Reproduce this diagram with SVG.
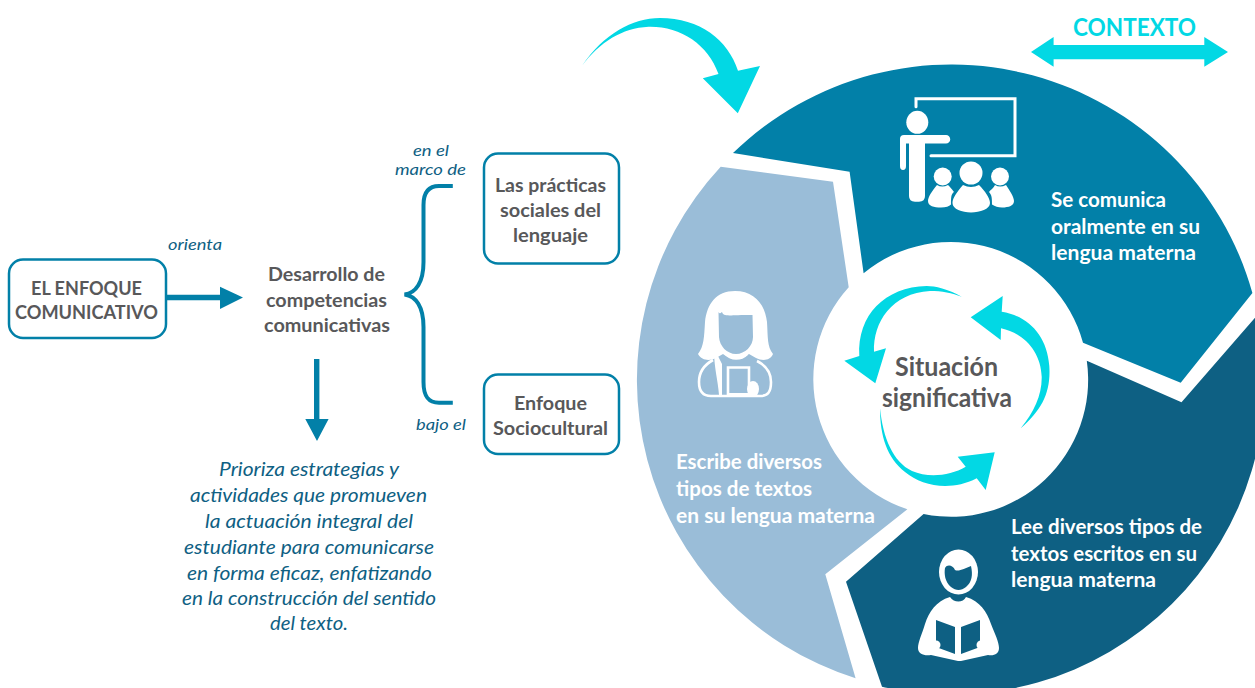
<svg xmlns="http://www.w3.org/2000/svg" width="1255" height="688" viewBox="0 0 1255 688">
<style>
text{font-family:"Lato","Liberation Sans",sans-serif}
.b{font-weight:700;font-size:19px;fill:#58585a}
.w{font-weight:700;font-size:20px;fill:#fff}
.i{font-style:italic;font-size:16px;fill:#0e6083}
.p{font-style:italic;font-size:19px;fill:#0e6083}
.s{font-weight:700;font-size:26px;fill:#58585a}
.box{fill:#fff;stroke:#0280a8;stroke-width:2.5}
.c{fill:#02d8e4}
.k{fill:#0280a8}
.ic{fill:#fff}
</style>
<rect width="1255" height="688" fill="#fff"/>
<g id="segments">
<path id="seg-oral" fill="#0280a8" d="M733 153L849.6 171.7L863.6 273.3A137 137 0 0 1 1083 342.7L1180.7 382.7L1252.4 293A313 313 0 0 0 733 153Z"/>
<path id="seg-escribe" fill="#9abdd8" d="M720.7 166.7L833 181.7L848.7 287.3A137 137 0 0 0 907.4 509.3L825.3 574.3L855.6 678.3A313 313 0 0 1 720.7 166.7Z"/>
<path id="seg-lee" fill="#0e6083" d="M1086.8 360.7L1181.5 402.3L1257.5 315A313 313 0 0 1 882 686.7L846 581.7L923.6 514A137 137 0 0 0 1086.8 360.7Z"/>
</g>
<g id="connectors">
<path class="c" d="M582 65.7C604 34 632 18 660 18C700 18 728 40 738 70.7L760 66L737.8 113.3L702.8 78.3L718.5 74C708 44 680 26 648.6 26.7C622 28 600 42 582 65.7Z"/>
<path class="c" d="M1031 52L1053.6 37V45H1204.3V37L1228 52L1204.3 66.7V59.3H1053.6V66.7Z"/>
<path class="c" d="M961.7 296.7C948 289 935 286 926.7 286C885 287 857 315 859.3 356L844.3 360.7L875.3 383.3L886 348.3L874 351.7C873 322 892 293 930 291C942 291 952 293 961.7 296.7Z"/>
<path class="c" d="M1020.7 428.3C1042 410 1051 392 1049.3 366C1047 335 1028 316 1001.7 311.7L1002.7 296L970.7 317.3L1000.7 340L1001 328.3C1024 333 1041 352 1041.7 376.7C1042 395 1034 412 1020.7 428.3Z"/>
<path class="c" d="M880 408.3C880 436 887 458 905 472C922 486 950 492 976.7 478.3L985.7 490L994.7 452.3L957.7 456.7L965.7 466.7C950 476 928 478 912 471C893 462 883 438 880 408.3Z"/>
<path class="k" d="M166 294.8H220V286.7L243 297.5L220 309V300.2H166Z"/>
<path class="k" d="M314 359H319.4V419H328.6L317 441L305.3 419H314Z"/>
<path fill="none" stroke="#0280a8" stroke-width="4" d="M452.8 186H439C428 186 423.5 193 423.5 205V262C423.5 282 416 293 404.500 294.5C416 296 423.5 307 423.5 327V382C423.5 396 428 402.7 439 402.7H452.8"/>
</g>
<g id="node-enfoque">
<rect class="box" x="9" y="259.5" width="157" height="78.5" rx="14"/>
<text class="b" x="31" y="294.500" textLength="111" lengthAdjust="spacingAndGlyphs">EL ENFOQUE</text>
<text class="b" x="15" y="318.500" textLength="143" lengthAdjust="spacingAndGlyphs">COMUNICATIVO</text>
</g>
<g id="node-desarrollo">
<text class="b" x="268" y="280.500" textLength="117" lengthAdjust="spacingAndGlyphs">Desarrollo de</text>
<text class="b" x="266" y="306.500" textLength="121" lengthAdjust="spacingAndGlyphs">competencias</text>
<text class="b" x="264" y="331.500" textLength="126" lengthAdjust="spacingAndGlyphs">comunicativas</text>
</g>
<g id="node-practicas">
<rect class="box" x="484" y="153.5" width="135" height="110" rx="14"/>
<text class="b" x="495" y="191.500" textLength="111" lengthAdjust="spacingAndGlyphs">Las prácticas</text>
<text class="b" x="500" y="216.500" textLength="101" lengthAdjust="spacingAndGlyphs">sociales del</text>
<text class="b" x="513" y="241.500" textLength="75" lengthAdjust="spacingAndGlyphs">lenguaje</text>
</g>
<g id="node-sociocultural">
<rect class="box" x="484" y="374.5" width="135" height="79.5" rx="14"/>
<text class="b" x="514" y="409.500" textLength="73" lengthAdjust="spacingAndGlyphs">Enfoque</text>
<text class="b" x="493" y="434.500" textLength="115" lengthAdjust="spacingAndGlyphs">Sociocultural</text>
</g>
<g id="labels">
<text class="i" x="168" y="250" textLength="54" lengthAdjust="spacingAndGlyphs">orienta</text>
<text class="i" x="413" y="155.500" textLength="36" lengthAdjust="spacingAndGlyphs">en el</text>
<text class="i" x="395" y="174.500" textLength="71" lengthAdjust="spacingAndGlyphs">marco de</text>
<text class="i" x="416" y="430" textLength="50" lengthAdjust="spacingAndGlyphs">bajo el</text>
</g>
<g id="node-prioriza">
<text class="p" x="219" y="476" textLength="180" lengthAdjust="spacingAndGlyphs">Prioriza estrategias y</text>
<text class="p" x="190" y="502" textLength="237" lengthAdjust="spacingAndGlyphs">actividades que promueven</text>
<text class="p" x="205" y="528" textLength="208" lengthAdjust="spacingAndGlyphs">la actuación integral del</text>
<text class="p" x="184" y="554" textLength="250" lengthAdjust="spacingAndGlyphs">estudiante para comunicarse</text>
<text class="p" x="187" y="580" textLength="245" lengthAdjust="spacingAndGlyphs">en forma eficaz, enfatizando</text>
<text class="p" x="182" y="605" textLength="254" lengthAdjust="spacingAndGlyphs">en la construcción del sentido</text>
<text class="p" x="270" y="630" textLength="78" lengthAdjust="spacingAndGlyphs">del texto.</text>
</g>
<g id="node-contexto">
<text x="1073" y="36" textLength="123" lengthAdjust="spacingAndGlyphs" style="font-weight:700;font-size:25px;fill:#02d8e4">CONTEXTO</text>
</g>
<g id="node-situacion">
<text class="s" x="895" y="376" textLength="103" lengthAdjust="spacingAndGlyphs">Situación</text>
<text class="s" x="882" y="407" textLength="130" lengthAdjust="spacingAndGlyphs">significativa</text>
</g>
<g id="node-oral">
<text class="w" x="1051" y="207" textLength="115" lengthAdjust="spacingAndGlyphs">Se comunica</text>
<text class="w" x="1051" y="234" textLength="149" lengthAdjust="spacingAndGlyphs">oralmente en su</text>
<text class="w" x="1051" y="260" textLength="145" lengthAdjust="spacingAndGlyphs">lengua materna</text>
<g class="ic">
<path d="M916 106.7V98.7H1015V155.7H931" fill="none" stroke="#fff" stroke-width="3" stroke-linecap="round"/>
<ellipse cx="917.3" cy="122.3" rx="11" ry="11.5"/>
<path d="M904 135H946A4.2 4.2 0 0 1 946 143.5H925V196Q925 201.7 919 201.7H915Q909 201.7 909 196V143.5H906V166Q906 170 903 170Q900 170 900 166V139Q900 135 904 135Z"/>
<circle cx="942.7" cy="176.500" r="9"/>
<path d="M937 185C932 191 928 197 928 201C928 206 934 207.500 941 207.500C946 207.500 949 206.500 951 204.500C951 198 951 194 954 192C952 189 950 187 948 185Q942 188 937 185Z"/>
<circle cx="971" cy="173" r="11.500"/>
<path d="M963 185C957 192 952.500 198 952.500 203C952.500 209 962 212.500 971 212.500C980 212.500 990 209 990 203C990 198 985 191 979 185Q971 189 963 185Z"/>
<circle cx="1000" cy="176.500" r="9"/>
<path d="M995 185C994 188 990 190 989 192C992 195 992 199 992 204.500C995 206.500 998 207.500 1002 207.500C1009 207.500 1014 205.500 1014 201C1014 197 1010 191 1006 185Q1000 188 995 185Z"/>
</g>
</g>
<g id="node-escribe">
<text class="w" x="676" y="469" textLength="146" lengthAdjust="spacingAndGlyphs">Escribe diversos</text>
<text class="w" x="676" y="496" textLength="136" lengthAdjust="spacingAndGlyphs">tipos de textos</text>
<text class="w" x="676" y="523" textLength="199" lengthAdjust="spacingAndGlyphs">en su lengua materna</text>
<path class="ic" d="M735 291C716 291 707 304 705 322C704 338 704 346 698 354C702 361 710 361 716 358L723 354C730 360 742 360 749 354L756 358C762 361 770 361 773 354C767 346 768 338 767 322C765 304 754 291 735 291Z"/>
<path fill="#9abdd8" d="M718.500 312C720.500 315 721 312 722 312C724 317 726 315 752.500 315L753 337C753 346 745 354 736 354C727 354 719.500 346 719 337Z"/>
<path fill="none" stroke="#fff" stroke-width="2.6" d="M713 360C704 365 699 372 699 382C699 392 703 396 711 396H760C768 396 771 392 771 382C771 372 765 365 757 361M726 354C731 360 741 360 747 354"/>
<path class="ic" d="M715 350L722 364L722 395H719C718 380 714 368 714 350Z"/>
<path fill="none" stroke="#fff" stroke-width="2.6" d="M728 395V367.500H749V385"/>
<ellipse class="ic" cx="753" cy="389" rx="6" ry="8"/>
<path class="ic" d="M728 393H752V396H728Z"/>
</g>
<g id="node-lee">
<text class="w" x="1011" y="534" textLength="191" lengthAdjust="spacingAndGlyphs">Lee diversos tipos de</text>
<text class="w" x="1011" y="561" textLength="186" lengthAdjust="spacingAndGlyphs">textos escritos en su</text>
<text class="w" x="1011" y="587" textLength="145" lengthAdjust="spacingAndGlyphs">lengua materna</text>
<ellipse class="ic" cx="958.500" cy="572" rx="19.500" ry="22.500"/>
<path fill="#0e6083" d="M945 568C947 564 953 565 955 570C959 572 965 568 971 566C973 575 972 582 966 587C961 591 956 591 951 587C945 582 944 574 945 568Z"/>
<path class="ic" d="M950 597C954 603 963 603 966 597C980 601 987 612 991 624C995 634 999 642 999 648C999 654 994 656 988 655L961 661L958 661L931 655C924 656 918 654 918 648C918 642 922 634 925 624C929 612 936 601 950 597Z"/>
<path fill="#0e6083" d="M936 620L955 627V654L936 647ZM961 627L980 620V647L961 654Z"/>
<circle class="ic" cx="936" cy="645" r="4.500"/>
<circle class="ic" cx="981" cy="645" r="4.500"/>
</g>
</svg>
